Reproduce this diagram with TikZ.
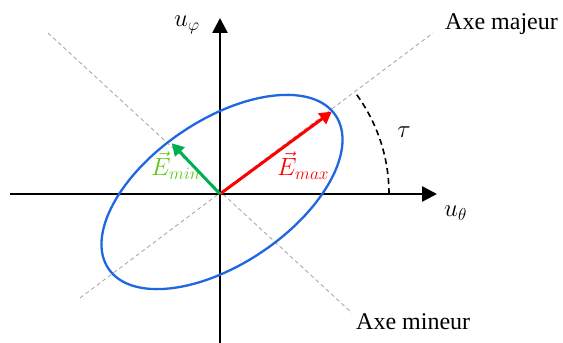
\documentclass[tikz,border=0pt]{standalone}
\usepackage{fontspec}
\setmainfont{Liberation Serif}
\DeclareMathSizes{26}{26}{18}{14}
\usetikzlibrary{arrows.meta}
\definecolor{ellblue}{RGB}{31,102,224}
\definecolor{arrgreen}{RGB}{0,176,80}
\definecolor{txtgreen}{RGB}{90,200,20}
\definecolor{dashgrey}{RGB}{170,170,170}
\tikzset{
  axis/.style={line width=2.6pt,-{Triangle[length=15pt,width=15pt]}},
  guide/.style={dashgrey,line width=0.9pt,dash pattern=on 4pt off 3pt},
  vec/.style={line width=3pt,-{Triangle[length=12pt,width=13pt]}},
  lbl/.style={inner sep=0pt,font=\fontsize{24}{28}\selectfont},
  mlbl/.style={inner sep=0pt,font=\fontsize{26}{30}\selectfont}
}
\begin{document}
\begin{tikzpicture}[x=1pt,y=1pt]
\useasboundingbox (0,0) rectangle (563,343);
\coordinate (O) at (220,149);
\coordinate (C) at (222,151);
% guide lines
\coordinate (majA) at (80,45);
\coordinate (majB) at (433,310);
\coordinate (minA) at (48,310);
\coordinate (minB) at (352,30);
\draw[guide] (majA) -- (majB);
\draw[guide] (minA) -- (minB);
% axes
\coordinate (xl) at (10,149);
\coordinate (xr) at (437,149);
\coordinate (yb) at (220,-2);
\coordinate (yt) at (220,325);
\draw[axis] (xl) -- (xr);
\draw[axis] (yb) -- (yt);
% ellipse
\draw[ellblue,line width=2.3pt,rotate around={34:(C)}] (C) ellipse [x radius=137pt, y radius=72pt];
% vectors
\coordinate (Emax) at (331.7,231.3);
\coordinate (Emin) at (171.7,199.7);
\draw[vec,red] (O) -- (Emax);
\draw[vec,arrgreen] (O) -- (Emin);
% angle arc
\draw[line width=1.6pt,dash pattern=on 6pt off 4pt] ([shift={(O)}]0:169pt) arc[start angle=0,end angle=36.5,radius=169pt];
% labels
\node[mlbl,anchor=base west] (uphi) at (174,316) {$u_\varphi$};
\node[mlbl,anchor=base west] (uth) at (444,126) {$u_\theta$};
\node[mlbl] (tau) at (404,211) {$\tau$};
\node[mlbl,anchor=base west,red] (lmax) at (277,167) {$\vec{E}_{max}$};
\node[mlbl,anchor=base west,txtgreen] (lmin) at (151,167) {$\vec{E}_{min}$};
\node[lbl,anchor=base west] (amaj) at (445,313) {Axe majeur};
\node[lbl,anchor=base west] (amin) at (356,13) {Axe mineur};
\end{tikzpicture}
\end{document}
